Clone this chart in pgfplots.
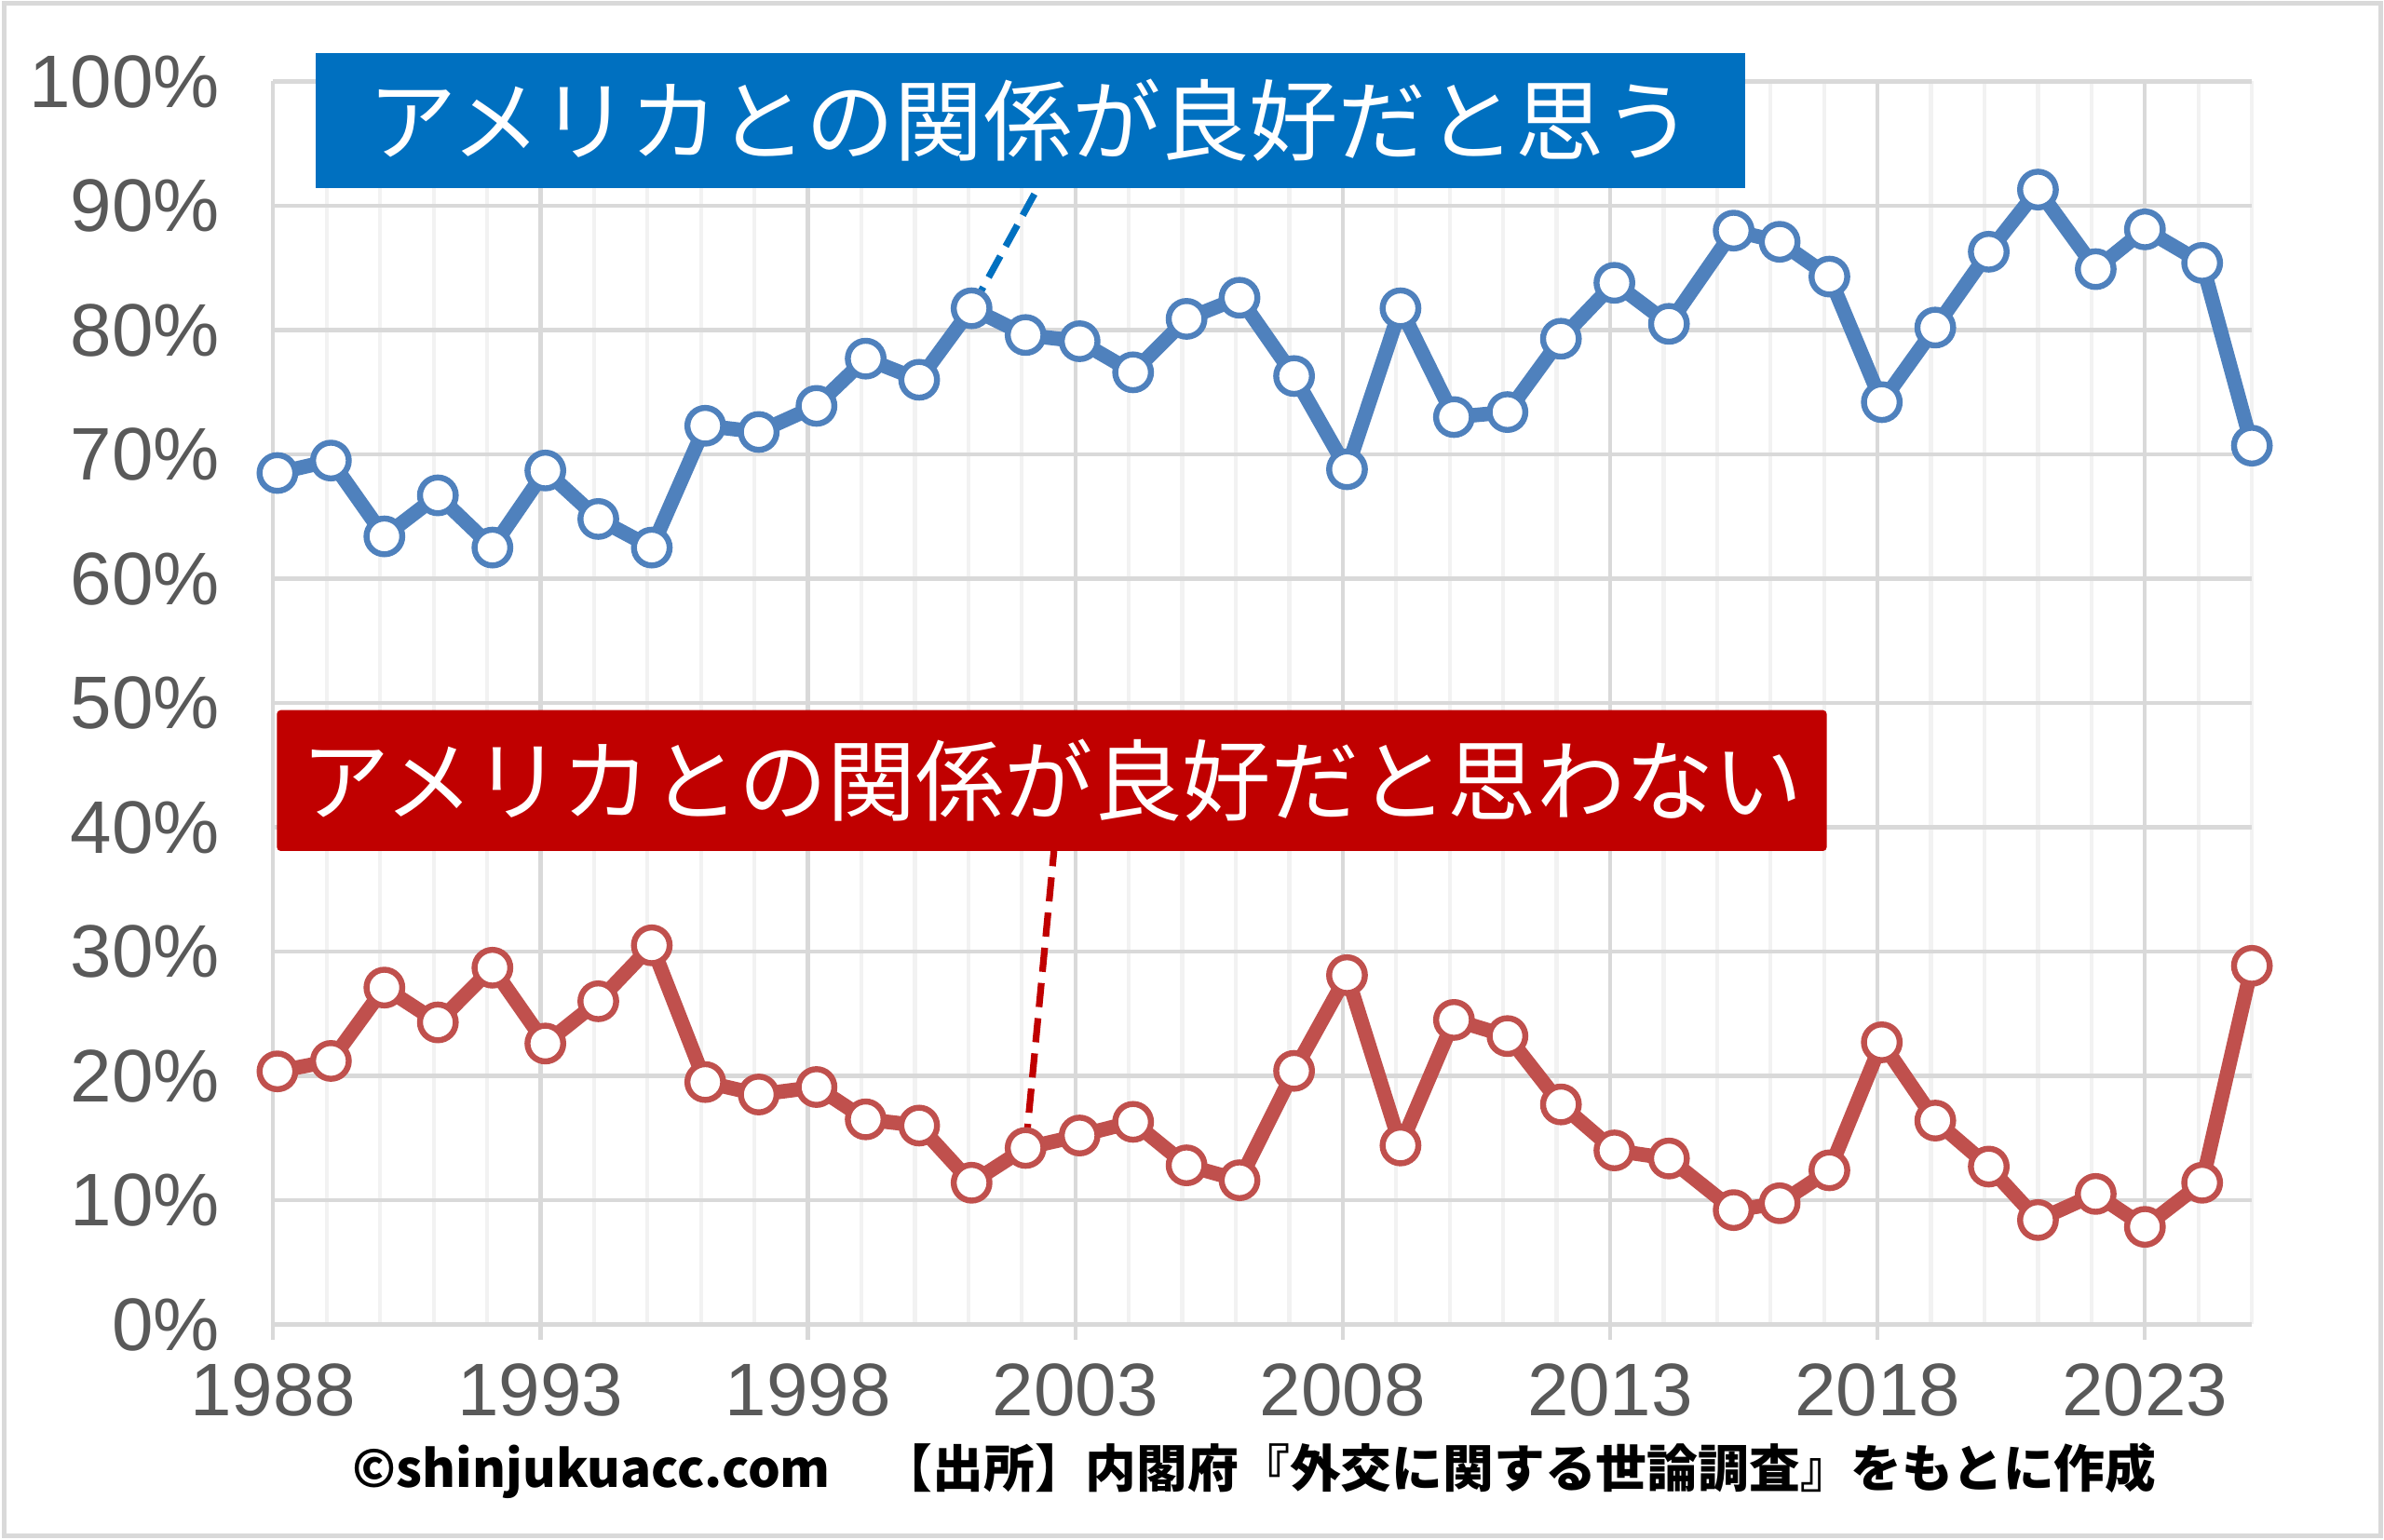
\documentclass[border=0pt]{standalone}
\usepackage{pgfplots}
\pgfplotsset{compat=1.18}
\usepackage{fontspec}
\setmainfont{Liberation Sans}
\newfontfamily\jp{Noto Sans CJK JP}
\definecolor{blueline}{HTML}{4F81BD}
\definecolor{redline}{HTML}{C0504D}
\definecolor{bluebox}{HTML}{0070C0}
\definecolor{redbox}{HTML}{C00000}
\definecolor{gridmajor}{HTML}{D9D9D9}
\definecolor{gridminor}{HTML}{F2F2F2}
\definecolor{ticktext}{HTML}{595959}
\pgfplotstableread{
x good notgood
1988.08 68.5 20.36
1989.08 69.5 21.2
1990.08 63.4 27.1
1991.08 66.7 24.3
1992.10 62.5 28.7
1993.09 68.7 22.6
1994.08 64.8 26.0
1995.08 62.5 30.5
1996.08 72.3 19.5
1997.08 71.8 18.5
1998.16 73.9 19.1
1999.08 77.7 16.5
2000.08 76.0 16.0
2001.06 81.75 11.4
2002.07 79.6 14.2
2003.08 79.1 15.2
2004.08 76.6 16.3
2005.08 80.9 12.8
2006.07 82.6 11.6
2007.09 76.3 20.4
2008.08 68.8 28.1
2009.08 81.75 14.4
2010.08 73.0 24.5
2011.08 73.4 23.2
2012.08 79.3 17.7
2013.08 83.8 14.0
2014.10 80.5 13.35
2015.31 88.0 9.2
2016.17 87.1 9.75
2017.10 84.3 12.4
2018.08 74.2 22.7
2019.08 80.2 16.4
2020.08 86.3 12.7
2021.00 91.3 8.4
2022.08 84.9 10.5
2023.00 88.1 7.85
2024.07 85.4 11.4
2025.00 70.7 28.85
}\datatable
\begin{document}
\begin{tikzpicture}
\path[use as bounding box] (0,0) rectangle (640pt,413.25pt);
\fill[white] (0,0) rectangle (640pt,413.25pt);
\draw[gridmajor, line width=1.25pt] (1pt,1pt) rectangle (639pt,412.25pt);
\begin{axis}[
  at={(73.33pt,57.63pt)}, anchor=south west,
  scale only axis, width=531.2pt, height=333.75pt,
  xmin=1988, xmax=2025, ymin=0, ymax=100,
  clip=false,
  axis line style={draw=none},
  xtick={1988,1993,1998,2003,2008,2013,2018,2023},
  xticklabels={1988,1993,1998,2003,2008,2013,2018,2023},
  minor xtick={1989,1990,1991,1992,1994,1995,1996,1997,1999,2000,2001,2002,2004,2005,2006,2007,2009,2010,2011,2012,2014,2015,2016,2017,2019,2020,2021,2022,2024,2025},
  ytick={0,10,20,30,40,50,60,70,80,90,100},
  yticklabels={0\%,10\%,20\%,30\%,40\%,50\%,60\%,70\%,80\%,90\%,100\%},
  grid=both,
  major grid style={draw=gridmajor, line width=1.05pt},
  minor grid style={draw=gridminor, line width=1.05pt},
  xtick pos=bottom, ytick pos=left,
  tick align=outside,
  major tick length=4.25pt, minor tick length=0pt,
  xtick style={draw=gridmajor, line width=1.05pt},
  ytick style={draw=none},
  ticklabel style={font=\fontsize{20}{24}\selectfont, text=ticktext, inner sep=0pt},
  xticklabel style={anchor=north, yshift=-6.0pt},
  yticklabel style={anchor=east, xshift=-9.9pt},
]
\addplot[blueline, line width=3.9pt, mark=*, mark size=4.8pt,
  mark options={fill=white, draw=blueline, line width=1.6pt}]
  table[x=x, y=good] {\datatable};
\addplot[redline, line width=3.9pt, mark=*, mark size=4.8pt,
  mark options={fill=white, draw=redline, line width=1.6pt}]
  table[x=x, y=notgood] {\datatable};
\fill[bluebox] (axis cs:1988.80,91.45) rectangle (axis cs:2015.52,102.26);
\node[text=white, font=\jp\fontsize{23.8}{26}\selectfont, inner sep=0pt]
  at (axis cs:2002.16,96.85) {アメリカとの関係が良好だと思う};
\fill[redbox, rounded corners=1pt] (axis cs:1988.07,38.09) rectangle (axis cs:2017.05,49.42);
\node[text=white, font=\jp\fontsize{23.8}{26}\selectfont, inner sep=0pt]
  at (axis cs:2002.56,43.76) {アメリカとの関係が良好だと思わない};
\draw[bluebox, line width=1.8pt, dash pattern=on 6.5pt off 3pt]
  (axis cs:2001.06,81.75) -- (axis cs:2002.3,91.45);
\draw[redbox, line width=1.8pt, dash pattern=on 6.5pt off 3pt]
  (axis cs:2002.07,14.2) -- (axis cs:2002.6,38.09);
\end{axis}
\node[font=\jp\bfseries\fontsize{13.7}{16}\selectfont, text=black, inner sep=0pt]
  at (336.8pt,18.25pt) {©shinjukuacc.com　【出所】内閣府『外交に関する世論調査』をもとに作成};
\end{tikzpicture}
\end{document}
